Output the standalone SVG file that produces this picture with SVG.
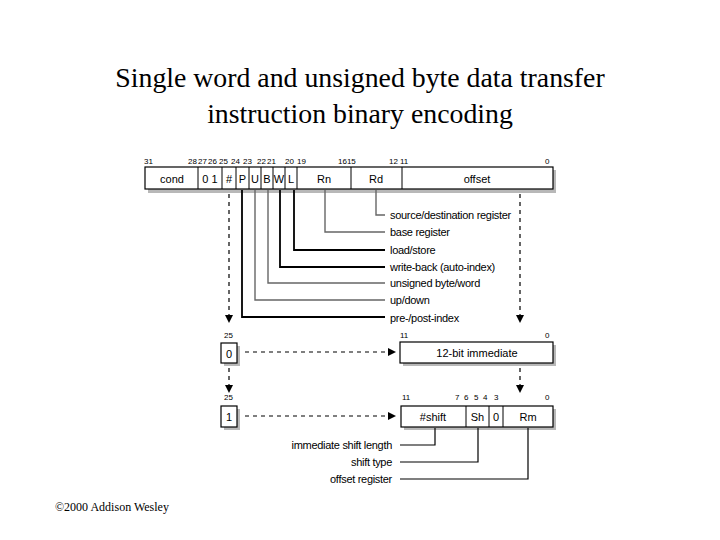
<svg xmlns="http://www.w3.org/2000/svg" width="720" height="540" viewBox="0 0 720 540">
<style>
.title{font-family:"Liberation Serif",serif;font-size:27.8px;fill:#000;text-anchor:middle}
.copy{font-family:"Liberation Serif",serif;font-size:12px;fill:#000}
.bit{font-family:"Liberation Sans",Arial,sans-serif;font-size:8px;fill:#000}
.fld{font-family:"Liberation Sans",Arial,sans-serif;font-size:11px;fill:#000;text-anchor:middle}
.lbl{font-family:"Liberation Sans",Arial,sans-serif;font-size:11px;fill:#000;letter-spacing:-0.3px}
.box{fill:#fff;stroke:#000;stroke-width:1.2}
.shadow{fill:#b8b8b8}
.div{stroke:#000;stroke-width:1}
.dash{stroke:#000;stroke-width:1.2;stroke-dasharray:4 4;fill:none}
.lk{fill:none;stroke:#000;stroke-width:1.8}
.lg{fill:none;stroke:#666;stroke-width:1.4}
</style>
<defs>
<marker id="ah" markerWidth="8" markerHeight="8" refX="7" refY="4" orient="auto" markerUnits="userSpaceOnUse">
<path d="M0,0 L8,4 L0,8 Z" fill="#000"/>
</marker>
</defs>

<text class="title" x="360" y="87">Single word and unsigned byte data transfer</text>
<text class="title" x="360" y="123">instruction binary encoding</text>

<g id="main-word">
<rect class="shadow" x="148" y="170" width="408" height="23"/>
<rect class="box" x="145" y="167" width="408" height="22"/>
<line class="div" x1="198" y1="167" x2="198" y2="189"/>
<line class="div" x1="222" y1="167" x2="222" y2="189"/>
<line class="div" x1="236" y1="167" x2="236" y2="189"/>
<line class="div" x1="249" y1="167" x2="249" y2="189"/>
<line class="div" x1="261" y1="167" x2="261" y2="189"/>
<line class="div" x1="273" y1="167" x2="273" y2="189"/>
<line class="div" x1="285" y1="167" x2="285" y2="189"/>
<line class="div" x1="297" y1="167" x2="297" y2="189"/>
<line class="div" x1="351" y1="167" x2="351" y2="189"/>
<line class="div" x1="402" y1="167" x2="402" y2="189"/>
<text class="fld" x="172" y="183">cond</text>
<text class="fld" x="210" y="183">0 1</text>
<text class="fld" x="229" y="183">#</text>
<text class="fld" x="242.5" y="183">P</text>
<text class="fld" x="255" y="183">U</text>
<text class="fld" x="267" y="183">B</text>
<text class="fld" x="279" y="183">W</text>
<text class="fld" x="291" y="183">L</text>
<text class="fld" x="324" y="183">Rn</text>
<text class="fld" x="376" y="183">Rd</text>
<text class="fld" x="477" y="183">offset</text>
<text class="bit" x="144" y="164">31</text>
<text class="bit" x="188" y="164">28</text>
<text class="bit" x="198" y="164">27</text>
<text class="bit" x="208" y="164">26</text>
<text class="bit" x="219" y="164">25</text>
<text class="bit" x="231" y="164">24</text>
<text class="bit" x="243" y="164">23</text>
<text class="bit" x="257" y="164">22</text>
<text class="bit" x="267" y="164">21</text>
<text class="bit" x="285" y="164">20</text>
<text class="bit" x="297" y="164">19</text>
<text class="bit" x="338" y="164">1615</text>
<text class="bit" x="389" y="164">12</text>
<text class="bit" x="400" y="164">11</text>
<text class="bit" x="545" y="164">0</text>
</g>

<g id="field-labels">
<text class="lbl" x="390" y="219">source/destination register</text>
<text class="lbl" x="390" y="236">base register</text>
<text class="lbl" x="390" y="254">load/store</text>
<text class="lbl" x="390" y="271">write-back (auto-index)</text>
<text class="lbl" x="390" y="287">unsigned byte/word</text>
<text class="lbl" x="390" y="304">up/down</text>
<text class="lbl" x="390" y="322">pre-/post-index</text>
</g>

<g id="imm-select-0">
<text class="bit" x="224" y="338">25</text>
<rect class="shadow" x="224" y="346" width="16" height="20"/>
<rect class="box" x="221" y="343" width="16" height="20"/>
<text class="fld" x="229" y="358">0</text>
</g>

<g id="imm-12bit">
<text class="bit" x="400" y="338">11</text>
<text class="bit" x="545" y="338">0</text>
<rect class="shadow" x="403" y="345" width="153" height="21"/>
<rect class="box" x="400" y="342" width="153" height="21"/>
<text class="fld" x="477" y="357">12-bit immediate</text>
</g>

<g id="imm-select-1">
<text class="bit" x="224" y="400">25</text>
<rect class="shadow" x="224" y="409" width="16" height="21"/>
<rect class="box" x="221" y="406" width="16" height="21"/>
<text class="fld" x="229" y="421">1</text>
</g>

<g id="reg-offset">
<text class="bit" x="402" y="400">11</text>
<text class="bit" x="455" y="400">7</text>
<text class="bit" x="464" y="400">6</text>
<text class="bit" x="474" y="400">5</text>
<text class="bit" x="483" y="400">4</text>
<text class="bit" x="494" y="400">3</text>
<text class="bit" x="545" y="400">0</text>
<rect class="shadow" x="404" y="409" width="152" height="21"/>
<rect class="box" x="401" y="406" width="152" height="21"/>
<line class="div" x1="466" y1="406" x2="466" y2="427"/>
<line class="div" x1="489" y1="406" x2="489" y2="427"/>
<line class="div" x1="503" y1="406" x2="503" y2="427"/>
<text class="fld" x="433" y="421">#shift</text>
<text class="fld" x="477.5" y="421">Sh</text>
<text class="fld" x="496" y="421">0</text>
<text class="fld" x="528" y="421">Rm</text>
</g>

<g id="offset-labels">
<text class="lbl" x="392" y="449" text-anchor="end">immediate shift length</text>
<text class="lbl" x="392" y="466" text-anchor="end">shift type</text>
<text class="lbl" x="392" y="483" text-anchor="end">offset register</text>
</g>

<g id="connectors">
<polyline class="lg" points="376,190 376,215 385,215"/>
<polyline class="lg" points="325,190 325,232 385,232"/>
<polyline class="lk" points="294,190 294,250 385,250"/>
<polyline class="lk" points="280,190 280,267 385,267"/>
<polyline class="lg" points="268,190 268,283 385,283"/>
<polyline class="lg" points="255,190 255,300 385,300"/>
<polyline class="lk" points="242,190 242,317 385,317"/>
<line class="dash" x1="229" y1="194" x2="229" y2="322" marker-end="url(#ah)"/>
<line class="dash" x1="520" y1="194" x2="520" y2="322" marker-end="url(#ah)"/>
<line class="dash" x1="245" y1="352" x2="395" y2="352" marker-end="url(#ah)"/>
<line class="dash" x1="229" y1="368" x2="229" y2="392" marker-end="url(#ah)"/>
<line class="dash" x1="520" y1="368" x2="520" y2="392" marker-end="url(#ah)"/>
<line class="dash" x1="245" y1="416" x2="395" y2="416" marker-end="url(#ah)"/>
<polyline class="lk" style="stroke-width:1.2" points="435,428 435,445 400,445"/>
<polyline class="lk" style="stroke-width:1.2" points="478,428 478,462 400,462"/>
<polyline class="lk" style="stroke-width:1.2" points="528,428 528,479 400,479"/>
</g>

<text class="copy" x="55" y="511">©2000 Addison Wesley</text>
</svg>
